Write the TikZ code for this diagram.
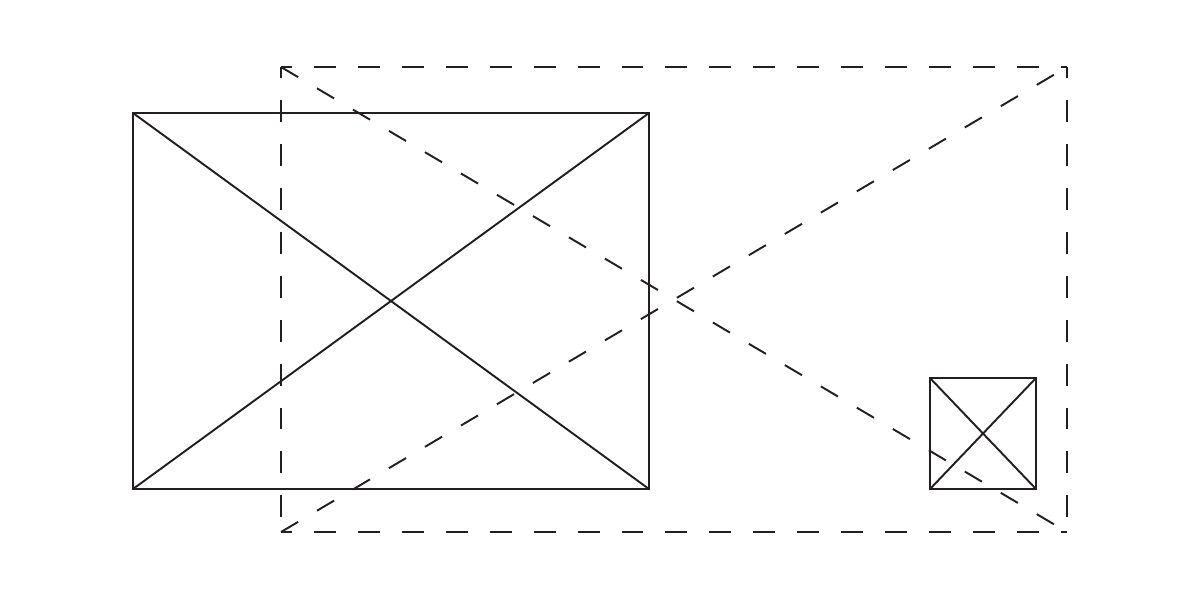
\documentclass[tikz,border=0pt]{standalone}
\usepackage{tikz}
\usetikzlibrary{calc}
\definecolor{ink}{HTML}{231F20}
\tikzset{frame/.style={draw=ink, line width=1.6pt},
  cross/.style={draw=ink, line width=1.1pt},
  ghost/.style={draw=ink, line width=1.1pt, dash pattern=on 12.5pt off 12.5pt, dash phase=6.2pt},
  ghostdiag/.style={draw=ink, line width=1.1pt, dash pattern=on 11.3pt off 12.5pt}}

\begin{document}
\begin{tikzpicture}[x=0.02cm,y=-0.02cm]
\useasboundingbox (0,0) rectangle (1200,600);

% big solid frame
\coordinate (bigTL) at (133,113);
\coordinate (bigTR) at (649,113);
\coordinate (bigBL) at (133,489);
\coordinate (bigBR) at (649,489);

% dashed frame
\coordinate (dashTL) at (281,67);
\coordinate (dashTR) at (1067,67);
\coordinate (dashBL) at (281,532);
\coordinate (dashBR) at (1067,532);

% small solid frame
\coordinate (smTL) at (930,378);
\coordinate (smTR) at (1036,378);
\coordinate (smBL) at (930,489);
\coordinate (smBR) at (1036,489);

\draw[ghost] (dashTL) -- (dashTR);
\draw[ghost] (dashTR) -- (dashBR);
\draw[ghost] (dashBL) -- (dashBR);
\draw[ghost] (dashTL) -- (dashBL);
\draw[ghostdiag] (dashTL) -- (dashBR);
\draw[ghostdiag] (dashBL) -- (dashTR);

\draw[cross] (bigTL) -- (bigBR);
\draw[cross] (bigBL) -- (bigTR);
\draw[frame] (bigTL) rectangle (bigBR);

\draw[cross] (smTL) -- (smBR);
\draw[cross] (smBL) -- (smTR);
\draw[frame] (smTL) rectangle (smBR);

\end{tikzpicture}
\end{document}
